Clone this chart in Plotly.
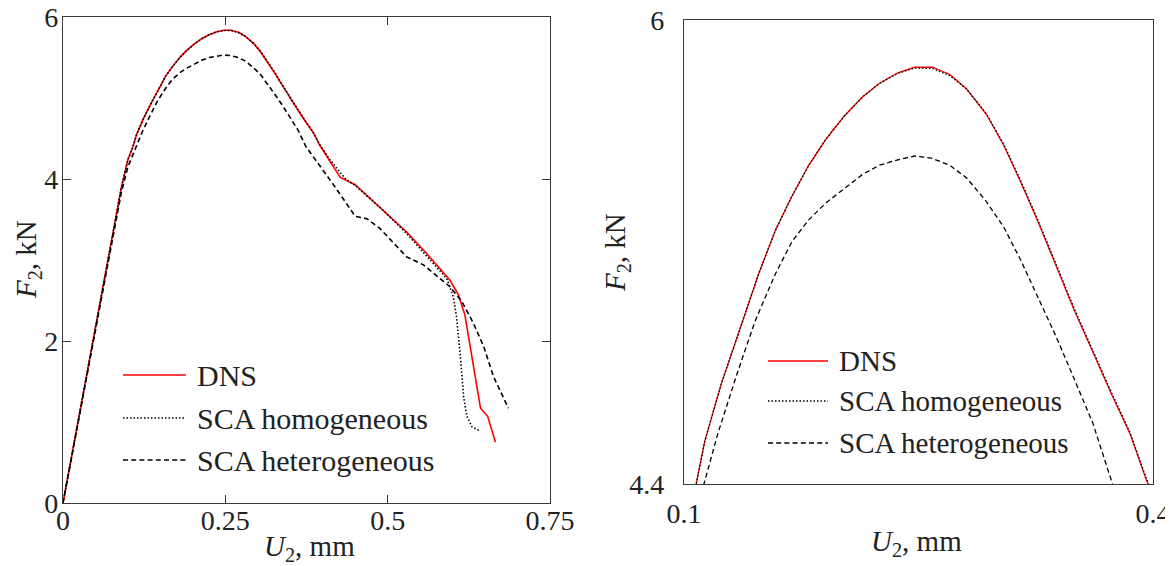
import plotly.graph_objects as go

# ---------------- data ----------------
dns_u = [0, 0.03, 0.06, 0.09, 0.1, 0.1078, 0.1133, 0.124, 0.1359, 0.1477, 0.1584, 0.1691,
         0.1798, 0.1905, 0.2024, 0.2143, 0.2249, 0.2368, 0.2475, 0.2589, 0.2701, 0.2808,
         0.2934, 0.3045, 0.3152, 0.3259, 0.3378, 0.3497, 0.3615, 0.3734, 0.3853, 0.396,
         0.41, 0.427, 0.45, 0.486, 0.53, 0.56, 0.596, 0.609, 0.619, 0.643, 0.654, 0.666]
dns_f = [0, 1.3, 2.62, 3.9, 4.24, 4.4, 4.548, 4.748, 4.936, 5.124, 5.274, 5.393,
         5.499, 5.587, 5.668, 5.735, 5.781, 5.818, 5.837, 5.837, 5.812, 5.762,
         5.675, 5.568, 5.443, 5.311, 5.155, 4.998, 4.855, 4.71, 4.573, 4.41,
         4.24, 4.02, 3.93, 3.66, 3.34, 3.08, 2.75, 2.57, 2.32, 1.17, 1.07, 0.75]

hom_u = [0, 0.03, 0.06, 0.09, 0.1, 0.1078, 0.1133, 0.124, 0.1359, 0.1477, 0.1584, 0.1691,
         0.1798, 0.1905, 0.2024, 0.2143, 0.2249, 0.2368, 0.2475, 0.2589, 0.2701, 0.2808,
         0.2934, 0.3045, 0.3152, 0.3259, 0.3378, 0.3497, 0.3615, 0.3734, 0.3853, 0.396,
         0.41, 0.42, 0.435, 0.45, 0.4935, 0.53, 0.56, 0.591, 0.601, 0.606, 0.612, 0.617,
         0.622, 0.630, 0.642]
hom_f = [0, 1.3, 2.62, 3.9, 4.24, 4.4, 4.548, 4.748, 4.936, 5.124, 5.274, 5.393,
         5.499, 5.587, 5.668, 5.735, 5.781, 5.816, 5.834, 5.833, 5.808, 5.762,
         5.677, 5.572, 5.448, 5.317, 5.161, 5.004, 4.861, 4.716, 4.578, 4.415,
         4.25, 4.15, 4.0, 3.92, 3.61, 3.32, 3.05, 2.77, 2.55, 2.30, 1.81, 1.31,
         1.07, 0.94, 0.89]

het_u = [0, 0.03, 0.06, 0.09, 0.1, 0.1126, 0.1216, 0.1335, 0.1454, 0.1584, 0.1691, 0.1798,
         0.1905, 0.2024, 0.2143, 0.2249, 0.2368, 0.2475, 0.2582, 0.2701, 0.2808, 0.2926,
         0.3045, 0.3152, 0.3259, 0.3378, 0.3497, 0.3615, 0.3741, 0.386, 0.4165, 0.45,
         0.468, 0.488, 0.505, 0.529, 0.555, 0.596, 0.614, 0.632, 0.648, 0.663, 0.686]
het_f = [0, 1.28, 2.58, 3.84, 4.15, 4.4, 4.573, 4.773, 4.961, 5.124, 5.236, 5.311,
         5.368, 5.418, 5.468, 5.499, 5.518, 5.531, 5.524, 5.499, 5.455, 5.38,
         5.286, 5.174, 5.049, 4.911, 4.761, 4.61, 4.4, 4.27, 3.93, 3.54,
         3.51, 3.39, 3.25, 3.04, 2.94, 2.67, 2.49, 2.22, 1.93, 1.56, 1.17]

series_names = ["DNS", "SCA homogeneous", "SCA heterogeneous"]

x1_ticks = [0, 0.25, 0.5, 0.75]
x1_labels = ["0", "0.25", "0.5", "0.75"]
y1_ticks = [0, 2, 4, 6]
y1_labels = ["0", "2", "4", "6"]
x2_ticks = [0.1, 0.4]
x2_labels = ["0.1", "0.4"]
y2_ticks = [4.4, 6]
y2_labels = ["4.4", "6"]
x_title = "<i>U</i><sub>2</sub>, mm"
y_title = "<i>F</i><sub>2</sub>, kN"

# ---------------- figure ----------------
# the page body has an 8px margin, so the figure is drawn 8px smaller and
# all page-pixel positions below are shifted by that offset
OFF = 8
W, H = 1173 - OFF, 566 - OFF
FONT = "Liberation Serif, Times New Roman, serif"
AX = "#3a3a3a"
TXT = "#222"

styles = [
    dict(color="red", dash="solid"),
    dict(color="black", dash="1.5px,2px"),
    dict(color="black", dash="5px,3.2px"),
]
data = [(dns_u, dns_f), (hom_u, hom_f), (het_u, het_f)]

fig = go.Figure()
for (u, f), st, nm in zip(data, styles, series_names):
    fig.add_trace(go.Scatter(x=u, y=f, mode="lines", name=nm, showlegend=False,
                             line=dict(color=st["color"], dash=st["dash"], width=1.6),
                             xaxis="x", yaxis="y"))
for (u, f), st, nm in zip(data, styles, series_names):
    fig.add_trace(go.Scatter(x=u, y=f, mode="lines", name=nm, showlegend=False,
                             line=dict(color=st["color"], dash=st["dash"], width=1.3),
                             xaxis="x2", yaxis="y2"))


def px(x):
    return (x - OFF) / W


def py(y):
    return 1 - (y - OFF) / H


axis_common = dict(showline=True, linecolor=AX, linewidth=1.3, mirror="allticks",
                   showgrid=False, zeroline=False, tickcolor=AX, tickwidth=1.1,
                   tickfont=dict(family=FONT, size=28, color=TXT),
                   tickmode="array", automargin=False, ticklabeloverflow="allow")

fig.update_layout(
    width=W, height=H,
    margin=dict(l=0, r=0, t=0, b=0, autoexpand=False),
    paper_bgcolor="white", plot_bgcolor="white",
    showlegend=False,
    xaxis=dict(axis_common, domain=[px(63), px(550)], range=[0, 0.75],
               tickvals=x1_ticks, ticktext=x1_labels, ticks="inside", ticklen=8,
               ticklabelstandoff=-8, anchor="y"),
    yaxis=dict(axis_common, domain=[py(503), py(17)], range=[0, 6],
               tickvals=y1_ticks, ticktext=y1_labels, ticks="inside", ticklen=8,
               ticklabelstandoff=-2, anchor="x"),
    xaxis2=dict(axis_common, domain=[px(684), px(1153)], range=[0.1, 0.4],
                tickvals=x2_ticks, ticktext=x2_labels, ticks="",
                ticklabelstandoff=4, anchor="y2"),
    yaxis2=dict(axis_common, domain=[py(484), py(20)], range=[4.4, 6],
                tickvals=y2_ticks, ticktext=y2_labels, ticks="",
                ticklabelstandoff=13, anchor="x2"),
)

# ---------------- axis titles ----------------
title_specs = [
    dict(x=309, y=548, text=x_title, angle=0),
    dict(x=28, y=260, text=y_title, angle=-90),
    dict(x=916, y=543, text=x_title, angle=0),
    dict(x=617, y=253, text=y_title, angle=-90),
]
for t in title_specs:
    fig.add_annotation(xref="paper", yref="paper", x=px(t["x"]), y=py(t["y"]),
                       text=t["text"], textangle=t["angle"], showarrow=False,
                       xanchor="center", yanchor="middle",
                       font=dict(family=FONT, size=29, color=TXT))

# ---------------- custom legends ----------------
legend_specs = [
    dict(x0=123, x1=186, tx=195, rows=[375, 418, 460], w=1.6, fs=30),
    dict(x0=768, x1=828, tx=837, rows=[361, 401, 443], w=1.3, fs=29),
]
for spec in legend_specs:
    for st, nm, ry in zip(styles, series_names, spec["rows"]):
        fig.add_shape(type="line", xref="paper", yref="paper",
                      x0=px(spec["x0"]), x1=px(spec["x1"]), y0=py(ry), y1=py(ry),
                      line=dict(color=st["color"], dash=st["dash"], width=spec["w"]))
        fig.add_annotation(xref="paper", yref="paper", x=px(spec["tx"]), y=py(ry),
                           text=nm, showarrow=False, xanchor="left", yanchor="middle",
                           font=dict(family=FONT, size=spec["fs"], color=TXT))

fig.write_html("out.html")
